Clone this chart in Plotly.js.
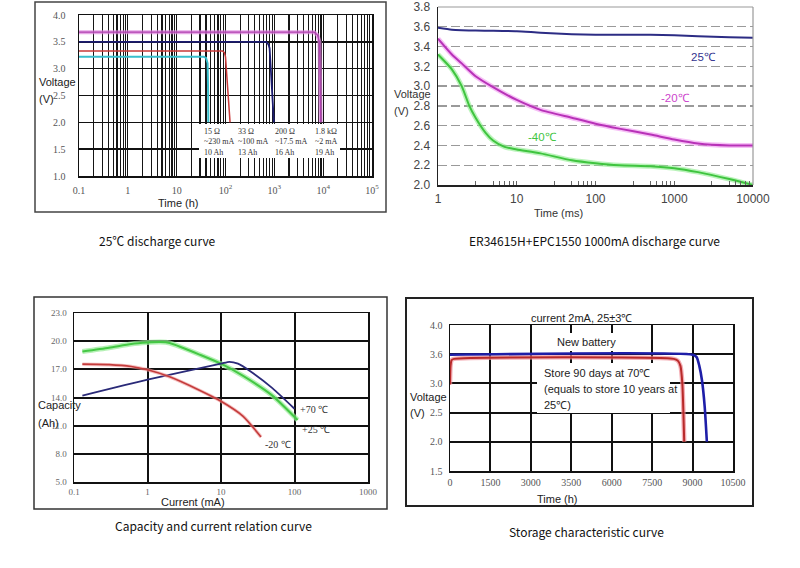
<!DOCTYPE html>
<html>
<head>
<meta charset="utf-8">
<script src="https://cdn.plot.ly/plotly-3.0.1.min.js"></script>
<style>html,body{margin:0;padding:0;background:#fff;}#chart{width:800px;height:568px;}</style>
</head>
<body>
<div id="chart"></div>
<script>
// ---------- Chart 1: 25℃ discharge curve ----------
const c1TickVals = [0.1, 1, 10, 100, 1000, 10000, 100000];
const c1TickText = ['0.1', '1', '10', '10<sup>2</sup>', '10<sup>3</sup>', '10<sup>4</sup>', '10<sup>5</sup>'];
const c1MinorTicks = [0.2, 0.3, 0.4, 0.5, 0.6, 0.7, 0.8, 0.9,
                      2, 3, 4, 5, 6, 7, 8, 9,
                      20, 30, 40, 50, 60, 70, 80, 90,
                      200, 300, 400, 500, 600, 700, 800, 900,
                      2000, 3000, 4000, 5000, 6000, 7000, 8000, 9000,
                      20000, 30000, 40000, 50000, 60000, 70000, 80000, 90000];
const c1YTicks = [1.0, 1.5, 2.0, 2.5, 3.0, 3.5, 4.0];
const c1CyanT = [0.1, 36, 40, 43, 44, 44.5];
const c1CyanV = [3.22, 3.22, 3.2, 3.1, 2.6, 2.0];
const c1RedT = [0.1, 87, 95, 100, 124];
const c1RedV = [3.33, 3.33, 3.3, 3.22, 2.0];
const c1NavyT = [0.1, 680, 760, 800, 980];
const c1NavyV = [3.50, 3.50, 3.45, 3.38, 2.0];
const c1MagT = [0.1, 6500, 7600, 8400, 8900];
const c1MagV = [3.68, 3.68, 3.63, 3.5, 2.0];
const c1Notes = [
  '15 Ω<br>~230 mA<br>10 Ah',
  '33 Ω<br>~100 mA<br>13 Ah',
  '200 Ω<br>~17.5 mA<br>16 Ah',
  '1.8 kΩ<br>~2 mA<br>19 Ah'
];

// ---------- Chart 2: ER34615H+EPC1550 1000mA ----------
const c2TickVals = [1, 10, 100, 1000, 10000];
const c2TickText = ['1', '10', '100', '1000', '10000'];
const c2MinorTicks = [3, 5, 6, 7, 8, 9, 30, 50, 60, 70, 80, 90, 300, 500, 600, 700, 800, 900, 3000, 5000, 6000, 7000, 8000, 9000];
const c2T25 = [1, 1.5, 2, 3, 5, 10, 20, 50, 100, 200, 500, 1000, 2000, 5000, 10000];
const c2V25 = [3.59, 3.57, 3.565, 3.562, 3.56, 3.555, 3.54, 3.525, 3.52, 3.52, 3.52, 3.515, 3.505, 3.495, 3.488];
const c2Tm20 = [1, 1.5, 2, 3, 5, 10, 20, 50, 100, 200, 500, 1000, 2000, 5000, 10000];
const c2Vm20 = [3.48, 3.32, 3.23, 3.1, 2.99, 2.86, 2.76, 2.68, 2.62, 2.57, 2.51, 2.46, 2.42, 2.40, 2.40];
const c2Tm40 = [1, 1.5, 2, 2.5, 3, 4, 5, 7, 10, 20, 50, 100, 200, 500, 1000, 2000, 5000, 10000];
const c2Vm40 = [3.32, 3.17, 3.0, 2.8, 2.68, 2.53, 2.45, 2.385, 2.36, 2.32, 2.25, 2.22, 2.20, 2.19, 2.17, 2.13, 2.06, 2.0];

// ---------- Chart 3: Capacity vs current ----------
const c3TickVals = [0.1, 1, 10, 100, 1000];
const c3TickText = ['0.1', '1', '10', '100', '1000'];
const c3I25 = [0.13, 0.3, 0.6, 1, 1.5, 2, 3, 5, 10, 20, 50, 110];
const c3C25 = [18.9, 19.3, 19.7, 19.85, 19.9, 19.8, 19.3, 18.6, 17.6, 16.3, 14.2, 11.6];
const c3I70 = [0.13, 1, 10, 13, 17, 25, 50, 100];
const c3C70 = [14.2, 15.9, 17.6, 17.8, 17.6, 16.8, 15.0, 12.8];
const c3Im20 = [0.13, 0.3, 0.6, 1, 2, 5, 10, 20, 35];
const c3Cm20 = [17.55, 17.5, 17.3, 16.95, 16.2, 14.8, 13.6, 12.0, 9.8];

// ---------- Chart 4: Storage characteristic ----------
const c4TickVals = [0, 1500, 3000, 4500, 6000, 7500, 9000, 10500];
const c4TickText = ['0', '1500', '3000', '3500', '6000', '7500', '9000', '10500'];
const c4YVals = [1.5, 2.0, 2.5, 3.0, 3.5, 4.0];
const c4YText = ['1.5', '2.0', '2.5', '3.0', '3.6', '4.0'];
const c4NewT = [0, 9000, 9150, 9250, 9350, 9450, 9530];
const c4NewV = [3.49, 3.49, 3.45, 3.3, 3.05, 2.6, 2.0];
const c4StoredT = [0, 20, 60, 150, 8300, 8450, 8550, 8620, 8660, 8690];
const c4StoredV = [2.98, 3.3, 3.4, 3.42, 3.42, 3.39, 3.3, 3.0, 2.5, 2.0];

const captions = ['25℃ discharge curve', 'ER34615H+EPC1550 1000mA discharge curve',
                  'Capacity and current relation curve', 'Storage characteristic curve'];

// major + minor positions merged (minor positions get blank labels)
const c1AllTicks = c1TickVals.concat(c1MinorTicks);
const c1AllText = c1TickText.concat(c1MinorTicks.map(() => ''));
const c2AllTicks = c2TickVals.concat(c2MinorTicks);
const c2AllText = c2TickText.concat(c2MinorTicks.map(() => ''));

// pixel helpers (layout only)
const W = 800, H = 568;
const px = v => v / W;
const py = v => 1 - v / H;

function line(x, y, xa, ya, color, width) {
  return {x: x, y: y, xaxis: xa, yaxis: ya, type: 'scatter', mode: 'lines',
          line: {color: color, width: width, shape: 'spline', smoothing: 0.6}, hoverinfo: 'skip'};
}
function straight(x, y, xa, ya, color, width) {
  return {x: x, y: y, xaxis: xa, yaxis: ya, type: 'scatter', mode: 'lines',
          line: {color: color, width: width}, hoverinfo: 'skip'};
}

const traces = [
  // chart 1
  straight(c1MagT, c1MagV, 'x', 'y', 'rgba(220,130,220,0.7)', 4),
  straight(c1MagT, c1MagV, 'x', 'y', '#b040b0', 1.2),
  straight(c1NavyT, c1NavyV, 'x', 'y', '#1c1c70', 1.8),
  straight(c1RedT, c1RedV, 'x', 'y', '#c83a3a', 1.5),
  straight(c1CyanT, c1CyanV, 'x', 'y', '#38bfcc', 2),
  // chart 2
  line(c2T25, c2V25, 'x2', 'y2', '#2c2c84', 2),
  line(c2Tm20, c2Vm20, 'x2', 'y2', 'rgba(240,150,240,0.6)', 5),
  line(c2Tm20, c2Vm20, 'x2', 'y2', '#b832b8', 2),
  line(c2Tm40, c2Vm40, 'x2', 'y2', 'rgba(140,235,140,0.6)', 5),
  line(c2Tm40, c2Vm40, 'x2', 'y2', '#3fc43f', 2),
  // chart 3
  line(c3I25, c3C25, 'x3', 'y3', 'rgba(150,235,150,0.7)', 5),
  line(c3I25, c3C25, 'x3', 'y3', '#45c845', 2),
  line(c3I70, c3C70, 'x3', 'y3', '#2a2a78', 1.8),
  line(c3Im20, c3Cm20, 'x3', 'y3', 'rgba(240,150,150,0.6)', 3.5),
  line(c3Im20, c3Cm20, 'x3', 'y3', '#c43c3c', 1.6),
  // chart 4
  line(c4StoredT, c4StoredV, 'x4', 'y4', 'rgba(240,140,150,0.7)', 4.5),
  line(c4StoredT, c4StoredV, 'x4', 'y4', '#b82a2a', 2),
  line(c4NewT, c4NewV, 'x4', 'y4', '#1e1ea8', 2.6)
];

const serif = 'Liberation Serif, Times New Roman, serif';
const sans = 'Liberation Sans, Arial, sans-serif';
const cap = 'Noto Sans CJK SC, Noto Sans, sans-serif';

const layout = {
  width: W, height: H,
  margin: {l: 0, r: 0, t: 0, b: 0},
  paper_bgcolor: '#fff', plot_bgcolor: '#fff',
  showlegend: false,
  // chart 1 axes
  xaxis: {domain: [px(79), px(372)], anchor: 'y', type: 'log', range: [-1, 5],
          tickmode: 'array', tickvals: c1AllTicks, ticktext: c1AllText,
          showgrid: true, gridcolor: '#151515', gridwidth: 1.2,
          showline: true, linecolor: '#111', linewidth: 1.5, mirror: true, zeroline: false, ticks: '',
          ticklabelstandoff: 4,
          tickfont: {family: serif, size: 10, color: '#555'}},
  yaxis: {domain: [py(176), py(15)], anchor: 'x', range: [1, 4],
          tickmode: 'array', tickvals: c1YTicks, ticktext: c1YTicks.map(v => v.toFixed(1)),
          showgrid: true, gridcolor: '#111', gridwidth: 1.6,
          showline: true, linecolor: '#111', linewidth: 1.5, mirror: true, zeroline: false, ticks: '',
          ticklabelstandoff: 10,
          tickfont: {family: serif, size: 10, color: '#555'}},
  // chart 2 axes
  xaxis2: {domain: [px(438), px(753)], anchor: 'y2', type: 'log', range: [0, 4],
           tickmode: 'array', tickvals: c2AllTicks, ticktext: c2AllText,
           showgrid: false, showline: true, linecolor: '#222', linewidth: 1.5, zeroline: false,
           ticks: 'inside', ticklen: 4, tickcolor: '#666', tickwidth: 1,
           ticklabelstandoff: 2,
           tickfont: {family: sans, size: 12, color: '#444'}},
  yaxis2: {domain: [py(185), py(7)], anchor: 'x2', range: [2.0, 3.8], dtick: 0.2, tick0: 2.0,
           tickformat: '.1f',
           showgrid: true, gridcolor: '#9a9a9a', gridwidth: 1.3, griddash: '9px,4px',
           showline: true, linecolor: '#222', linewidth: 1.5, zeroline: false, ticks: '',
           ticklabelstandoff: 4,
           tickfont: {family: sans, size: 12, color: '#444'}},
  // chart 3 axes
  xaxis3: {domain: [px(74), px(368)], anchor: 'y3', type: 'log', range: [-1, 3],
           tickmode: 'array', tickvals: c3TickVals, ticktext: c3TickText,
           showgrid: true, gridcolor: '#111', gridwidth: 2,
           showline: true, linecolor: '#111', linewidth: 1.5, mirror: true, zeroline: false, ticks: '',
           ticklabelstandoff: 1,
           tickfont: {family: serif, size: 9, color: '#666'}},
  yaxis3: {domain: [py(482), py(313)], anchor: 'x3', range: [5, 23], dtick: 3, tick0: 5,
           tickformat: '.1f',
           showgrid: true, gridcolor: '#111', gridwidth: 2,
           showline: true, linecolor: '#111', linewidth: 1.5, mirror: true, zeroline: false, ticks: '',
           ticklabelstandoff: 4,
           tickfont: {family: serif, size: 9, color: '#666'}},
  // chart 4 axes
  xaxis4: {domain: [px(450), px(733)], anchor: 'y4', range: [0, 10500],
           tickmode: 'array', tickvals: c4TickVals, ticktext: c4TickText,
           showgrid: true, gridcolor: '#111', gridwidth: 2,
           showline: true, linecolor: '#111', linewidth: 1.5, mirror: true, zeroline: false, ticks: '',
           ticklabelstandoff: 1,
           tickfont: {family: serif, size: 10, color: '#555'}},
  yaxis4: {domain: [py(471), py(325)], anchor: 'x4', range: [1.5, 4.0],
           tickmode: 'array', tickvals: c4YVals, ticktext: c4YText,
           showgrid: true, gridcolor: '#111', gridwidth: 2,
           showline: true, linecolor: '#111', linewidth: 1.5, mirror: true, zeroline: false, ticks: '',
           ticklabelstandoff: 4,
           tickfont: {family: serif, size: 10, color: '#555'}},
  shapes: [
    // frames
    {type: 'rect', xref: 'paper', yref: 'paper', x0: px(35), x1: px(386), y0: py(212), y1: py(2),
     line: {color: '#444', width: 1.5}},
    {type: 'rect', xref: 'paper', yref: 'paper', x0: px(34), x1: px(387), y0: py(509), y1: py(297),
     line: {color: '#333', width: 1.5}},
    {type: 'rect', xref: 'paper', yref: 'paper', x0: px(406), x1: px(753), y0: py(506), y1: py(298),
     line: {color: '#222', width: 2}},
    // chart 2 grey top/right border
    {type: 'line', xref: 'x2 domain', yref: 'y2 domain', x0: 0, x1: 1, y0: 1, y1: 1,
     line: {color: '#999', width: 1.2}},
    {type: 'line', xref: 'x2 domain', yref: 'y2 domain', x0: 1, x1: 1, y0: 0, y1: 1,
     line: {color: '#999', width: 1.2}},
    // white label boxes
    {type: 'rect', xref: 'paper', yref: 'paper', layer: 'above', x0: px(199), x1: px(340), y0: py(158), y1: py(124),
     fillcolor: '#fff', line: {width: 0}},
    {type: 'rect', xref: 'paper', yref: 'paper', layer: 'above', x0: px(556), x1: px(628), y0: py(351), y1: py(333),
     fillcolor: '#fff', line: {width: 0}},
    {type: 'rect', xref: 'paper', yref: 'paper', layer: 'above', x0: px(537), x1: px(670), y0: py(413), y1: py(363),
     fillcolor: '#fff', line: {width: 0}}
  ],
  annotations: []
};

function note(text, x, y, opts) {
  const o = opts || {};
  layout.annotations.push({
    text: text, xref: 'paper', yref: 'paper', x: px(x), y: py(y),
    xanchor: o.xanchor || 'center', yanchor: o.yanchor || 'middle', align: o.align || 'left',
    showarrow: false,
    font: {family: o.family || sans, size: o.size || 11, color: o.color || '#222'}
  });
}

// chart 1 texts
note('Voltage', 37, 82, {xanchor: 'left'});
note('(V)', 37, 99, {xanchor: 'left'});
note('Time (h)', 178, 203);
const c1NoteX = [202, 236, 273, 313];
c1Notes.forEach((t, i) => note(t, c1NoteX[i], 142, {xanchor: 'left', family: serif, size: 8, color: '#333'}));

// chart 2 texts
note('Voltage', 392, 94, {xanchor: 'left', color: '#333'});
note('(V)', 392, 111, {xanchor: 'left', color: '#333'});
note('Time (ms)', 558, 213, {color: '#333'});
note('25℃', 703, 57, {color: '#33338f', size: 11.5});
note('-20℃', 675, 98, {color: '#cc44cc', size: 11.5});
note('-40℃', 542, 137, {color: '#3fc43f', size: 11.5});

// chart 3 texts
note('Capacity', 36, 405, {xanchor: 'left'});
note('(Ah)', 36, 423, {xanchor: 'left'});
note('Current (mA)', 193, 502);
note('+70 ℃', 298, 409, {xanchor: 'left', family: serif, size: 10, color: '#333'});
note('+25 ℃', 300, 429, {xanchor: 'left', family: serif, size: 10, color: '#333'});
note('-20 ℃', 263, 444, {xanchor: 'left', family: serif, size: 10, color: '#333'});

// chart 4 texts
note('current 2mA, 25±3℃', 581, 318);
note('New battery', 586, 342);
note('Store 90 days at 70℃', 542, 373, {xanchor: 'left'});
note('(equals to store 10 years at', 542, 389, {xanchor: 'left'});
note('25℃)', 542, 405, {xanchor: 'left'});
note('Voltage', 408, 397, {xanchor: 'left'});
note('(V)', 408, 413, {xanchor: 'left'});
note('Time (h)', 557, 499);

// captions
note(captions[0], 157, 240, {family: cap, size: 12, color: '#111'});
note(captions[1], 594, 240, {family: cap, size: 12, color: '#111'});
note(captions[2], 213, 525, {family: cap, size: 12, color: '#111'});
note(captions[3], 586, 531, {family: cap, size: 12, color: '#111'});

Plotly.newPlot('chart', traces, layout, {displayModeBar: false, staticPlot: true});
</script>
</body>
</html>
